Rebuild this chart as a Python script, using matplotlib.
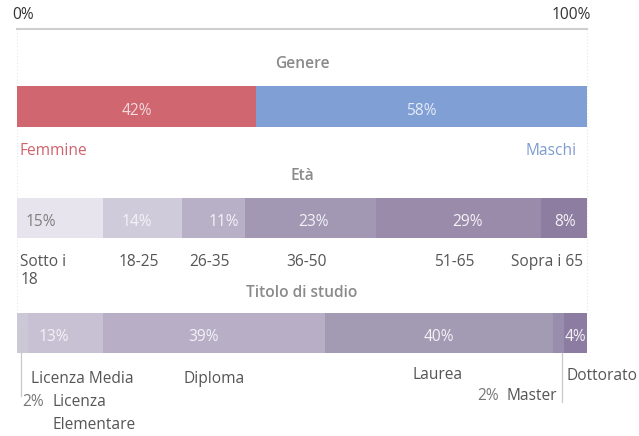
import numpy as np
import matplotlib
matplotlib.use('Agg')
import matplotlib.pyplot as plt

plt.rcParams['font.family'] = ['Open Sans', 'DejaVu Sans']

# data (percent)
genere_labels = ['Femmine', 'Maschi']
genere_vals = [42, 58]
genere_colors = ['#cf6670', '#7f9fd5']

eta_labels = ['Sotto i\n18', '18-25', '26-35', '36-50', '51-65', 'Sopra i 65']
eta_vals = [15, 14, 11, 23, 29, 8]
eta_colors = ['#e8e4ee', '#d0cbda', '#b8b0c7', '#a398b3', '#9a8baa', '#8d7da0']

titolo_labels = ['Licenza\nElementare', 'Licenza Media', 'Diploma', 'Laurea', 'Master', 'Dottorato']
titolo_vals = [2, 13, 39, 40, 2, 4]
titolo_colors = ['#cdc8d8', '#c7c1d3', '#b8afc7', '#a39ab4', '#998dae', '#8c7ca1']

W, H = 639, 436
px = 5.7          # pixels per percent
x0 = 17           # pixel of 0%

fig = plt.figure(figsize=(W / 100, H / 100), dpi=100)
ax = fig.add_axes([0, 0, 1, 1])
ax.set_xlim(-x0 / px, (W - x0) / px)
ax.set_ylim(H, 0)
ax.axis('off')

TXT = '#555555'
TITLE = '#8a8a8a'
FS = 11.2


def label(x, y, s, ha='left', color=TXT, **kw):
    # y is the baseline in pixels from the top
    ax.text(x, y, s, ha=ha, va='baseline', fontsize=FS, color=color, zorder=5, **kw)


# top scale
ax.plot([0, 100], [29, 29], color='#cfcfcf', lw=1.5, zorder=1)
label(-0.9, 19, '0%', color='#333333')
label(100.7, 19, '100%', ha='right', color='#333333')
for gx in [0, 100]:
    ax.plot([gx, gx], [29, 313], color='#e6e6e6', lw=0.8, ls=(0, (1, 2)), zorder=0)


def stacked(vals, colors, yc, h, pct_colors, shifts):
    starts = np.concatenate([[0], np.cumsum(vals)[:-1]])
    ax.barh([yc] * len(vals), vals, left=starts, height=h, color=colors,
            edgecolor='none', zorder=2)
    for i, (s, v) in enumerate(zip(starts, vals)):
        if pct_colors[i] is None:
            continue
        label(s + v / 2 + shifts[i], yc + 8, f'{v}%', ha='center', color=pct_colors[i])
    return starts


# Genere
label(50, 68, 'Genere', ha='center', color=TITLE, fontweight='semibold')
stacked(genere_vals, genere_colors, 107, 41, ['#f3dadd', '#e6ecf7'], [0, 0])
label(0.5, 155, genere_labels[0], color='#d0626d')
label(98.2, 155, genere_labels[1], ha='right', color='#7e9cd0')

# Eta
label(50, 180, 'Età', ha='center', color=TITLE, fontweight='semibold')
lc = '#f4f2f7'
st = stacked(eta_vals, eta_colors, 218, 40,
             ['#7f7f7f', lc, lc, lc, lc, lc], [-3.3, -0.9, 1.8, 0.5, 1.5, 0.2])
for i, (s, v) in enumerate(zip(st, eta_vals)):
    if i == 0:
        for k, line in enumerate(eta_labels[i].split('\n')):
            label(0.6, 266 + 18 * k, line)
    elif i == len(eta_vals) - 1:
        label(99.3, 266, eta_labels[i], ha='right')
    else:
        label(s + v / 2 - 0.7, 266, eta_labels[i], ha='center')

# Titolo di studio
label(50, 297, 'Titolo di studio', ha='center', color=TITLE, fontweight='semibold')
st = stacked(titolo_vals, titolo_colors, 333, 40,
             [None, lc, lc, lc, None, lc], [0, -2, -1.8, 0, 0, 0])

# leader lines for the small segments
ax.plot([st[0] + 0.65, st[0] + 0.65], [325, 396], color='#c8c8c8', lw=0.9, zorder=4)
ax.plot([st[5] - 0.3, st[5] - 0.3], [353, 402], color='#c8c8c8', lw=0.9, zorder=4)

label(st[1] + 0.5, 383, titolo_labels[1])
label(st[2] + titolo_vals[2] / 2, 383, titolo_labels[2], ha='center')
label(st[3] + titolo_vals[3] / 2 - 0.3, 379, titolo_labels[3], ha='center')
label(st[5] + 0.4, 380, titolo_labels[5])
label(st[4] + 0.7, 400, titolo_labels[4], ha='right')
label(84.6, 400, f'{titolo_vals[4]}%', ha='right', color='#777777')
label(st[0] + 1.0, 406, f'{titolo_vals[0]}%', color='#777777')
for k, line in enumerate(titolo_labels[0].split('\n')):
    label(st[0] + 6.3, 406 + 23 * k, line)

fig.savefig('out.png', dpi=100)
